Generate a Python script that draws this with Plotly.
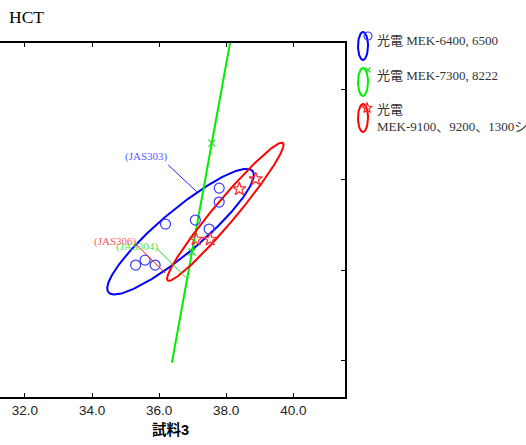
import numpy as np
import plotly.graph_objects as go

# ---- data -------------------------------------------------------------
x_ticks = [32.0, 34.0, 36.0, 38.0, 40.0]
y_ticks = [34.0, 36.0, 38.0, 40.0]

blue_x = [35.30, 35.58, 35.88, 36.19, 37.08, 37.49, 37.79, 37.79]
blue_y = [36.11, 36.22, 36.11, 37.02, 37.11, 36.91, 37.82, 37.51]

green_x = [37.57, 36.98]
green_y = [38.82, 36.40]

red_x = [37.10, 37.52, 38.39, 38.88]
red_y = [36.68, 36.68, 37.80, 38.02]

group_names = ["光電 MEK-6400, 6500", "光電 MEK-7300, 8222",
               "光電<br>MEK-9100、9200、1300シリーズ"]

# control-material labels: text position and leader line (start -> end)
ctrl_labels = ["(JAS303)", "(JAS306)", "(JAS304)"]
ctrl_text_xy = [(35.628, 38.518), (34.707, 36.629), (35.345, 36.518)]
ctrl_leader = [((36.272, 38.333), (37.119, 37.740)),
               ((35.330, 36.556), (36.174, 35.933)),
               ((35.927, 36.482), (36.821, 35.816))]

# ---- styles -----------------------------------------------------------
W, H = 526, 445
PLOT_L, PLOT_R, PLOT_T, PLOT_B = 0, 345, 43, 397
X_RANGE = [31.255, 41.541]
Y_RANGE = [33.178, 41.044]

ell_colors = ["#0000ff", "#00ee00", "#ff0000"]
mk_colors = ["#3c3cff", "#22dd22", "#ff2a2a"]
symbols = ["circle-open", "x-thin-open", "star-open"]
mk_sizes = [10, 7, 10]
ctrl_text_colors = ["#5a5aff", "#ff5a5a", "#55e055"]
ctrl_line_colors = ["#2020ff", "#ff2020", "#10dd10"]

SERIF = "Liberation Serif, Noto Sans CJK JP, serif"
SANS = "Liberation Sans, Noto Sans CJK JP, sans-serif"


def conf_ellipse(x, y, level=0.90, n=361):
    """Covariance (probability) ellipse of a point cloud."""
    pts = np.column_stack([x, y])
    c = pts.mean(axis=0)
    cov = np.cov(pts, rowvar=False)
    vals, vecs = np.linalg.eigh(cov)
    vals = np.clip(vals, 0, None)
    k = np.sqrt(-2.0 * np.log(1.0 - level))
    t = np.linspace(0, 2 * np.pi, n)
    circ = np.vstack([np.cos(t), np.sin(t)])
    e = vecs @ (np.sqrt(vals)[:, None] * circ) * k
    return c[0] + e[0], c[1] + e[1]


groups = [(blue_x, blue_y), (green_x, green_y), (red_x, red_y)]

fig = go.Figure()

for i, (gx, gy) in enumerate(groups):
    ex, ey = conf_ellipse(gx, gy)
    fig.add_trace(go.Scatter(x=ex, y=ey, mode="lines",
                             line=dict(color=ell_colors[i], width=2),
                             hoverinfo="skip", showlegend=False))
for i, (gx, gy) in enumerate(groups):
    fig.add_trace(go.Scatter(x=gx, y=gy, mode="markers",
                             marker=dict(symbol=symbols[i], size=mk_sizes[i],
                                         color=mk_colors[i],
                                         line=dict(color=mk_colors[i], width=1.2)),
                             name=group_names[i], showlegend=False))

# leader lines and control labels
for i, lab in enumerate(ctrl_labels):
    (x0, y0), (x1, y1) = ctrl_leader[i]
    fig.add_shape(type="line", xref="x", yref="y", x0=x0, y0=y0, x1=x1, y1=y1,
                  line=dict(color=ctrl_line_colors[i], width=1))
    tx, ty = ctrl_text_xy[i]
    fig.add_annotation(x=tx, y=ty, xref="x", yref="y", text=lab, showarrow=False,
                       font=dict(family=SERIF, size=11, color=ctrl_text_colors[i]))

# ---- custom legend on a pixel canvas to the right ----------------------
leg_cy = [46, 82, 118]
leg_mk = [(368, 36), (368, 70), (367, 108)]
leg_ty = [40, 75, 118]
t = np.linspace(0, 2 * np.pi, 121)
for i in range(3):
    fig.add_trace(go.Scatter(x=363 + 5 * np.cos(t), y=leg_cy[i] + 14 * np.sin(t),
                             xaxis="x2", yaxis="y2", mode="lines",
                             line=dict(color=ell_colors[i], width=2),
                             hoverinfo="skip", showlegend=False))
    fig.add_trace(go.Scatter(x=[leg_mk[i][0]], y=[leg_mk[i][1]],
                             xaxis="x2", yaxis="y2", mode="markers",
                             marker=dict(symbol=symbols[i], size=mk_sizes[i] - 2,
                                         color=mk_colors[i],
                                         line=dict(color=mk_colors[i], width=1.2)),
                             hoverinfo="skip", showlegend=False))
    fig.add_annotation(x=375, y=leg_ty[i], xref="x2", yref="y2", text=group_names[i],
                       showarrow=False, xanchor="left", yanchor="middle", align="left",
                       font=dict(family=SERIF, size=13, color="#333333"))

# title and axis title
fig.add_annotation(x=7 / W, y=1 - 17 / H, xref="paper", yref="paper", text="HCT",
                   showarrow=False, xanchor="left", yanchor="middle",
                   font=dict(family=SERIF, size=17.5, color="#000000"))
fig.add_annotation(x=170 / W, y=1 - 430 / H, xref="paper", yref="paper", text="<b>試料3</b>",
                   showarrow=False, xanchor="center", yanchor="middle",
                   font=dict(family=SANS, size=14.5, color="#000000"))

fig.update_layout(
    width=W, height=H, template="none",
    margin=dict(l=0, r=0, t=0, b=0, pad=0),
    paper_bgcolor="white", plot_bgcolor="rgba(0,0,0,0)",
    showlegend=False,
    xaxis=dict(domain=[PLOT_L / W, PLOT_R / W], range=X_RANGE,
               tickvals=x_ticks, tickformat=".1f", ticks="inside", ticklen=4,
               tickwidth=1, tickcolor="#000", showline=True, linecolor="#000",
               linewidth=2, mirror="ticks", showgrid=False, zeroline=False,
               automargin=False,
               tickfont=dict(family=SANS, size=13.5, color="#222")),
    yaxis=dict(domain=[1 - PLOT_B / H, 1 - PLOT_T / H], range=Y_RANGE,
               tickvals=y_ticks, side="right", ticks="inside", ticklen=4,
               tickwidth=1, tickcolor="#000", showline=True, linecolor="#000",
               linewidth=2, showticklabels=False, showgrid=False, zeroline=False,
               automargin=False),
    xaxis2=dict(domain=[350 / W, 1], range=[350, W], visible=False, fixedrange=True),
    yaxis2=dict(domain=[0, 1], range=[H, 0], visible=False, fixedrange=True,
                anchor="x2"),
)

fig.write_html("out.html")
